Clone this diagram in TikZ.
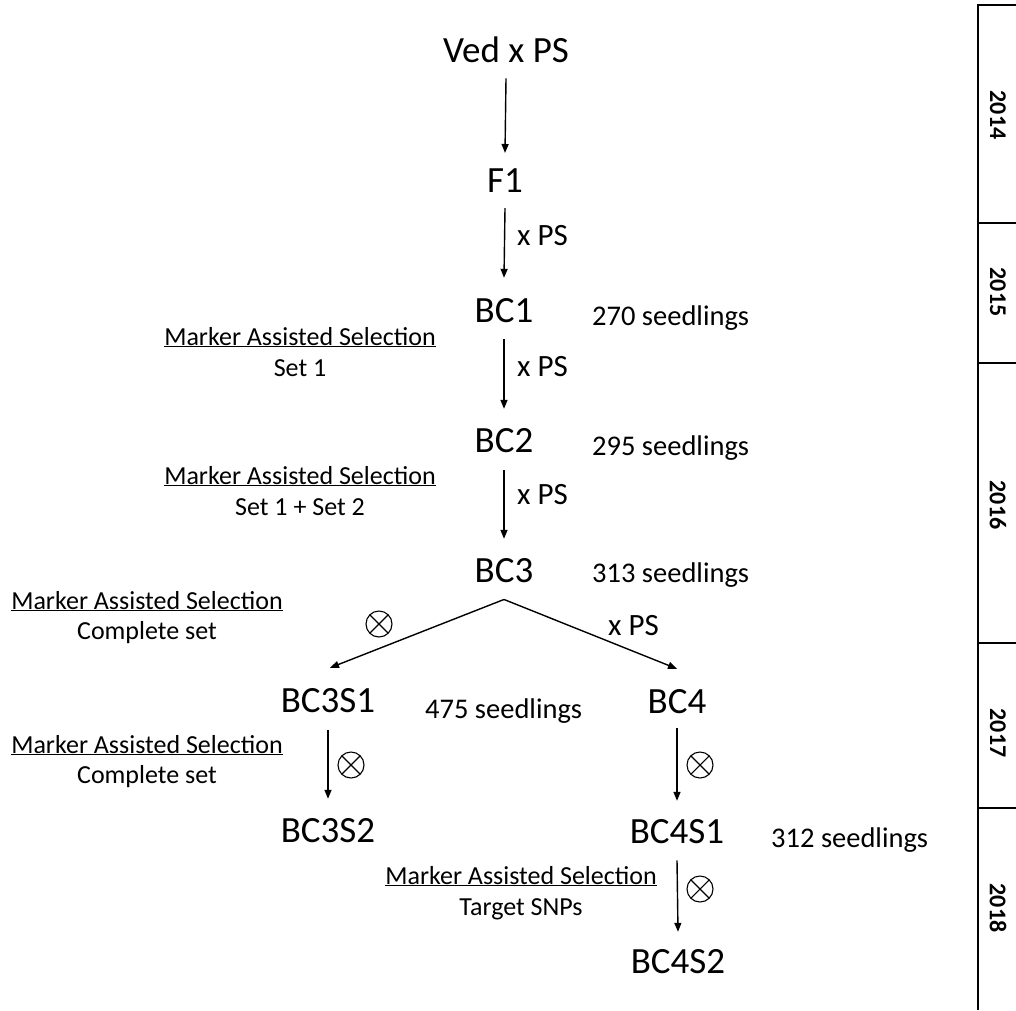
\documentclass[tikz,border=0pt]{standalone}
\usepackage{fontspec}
\setmainfont{Carlito}
\usetikzlibrary{arrows.meta}
\begin{document}
\begin{tikzpicture}[x=1pt,y=-1pt,
  big/.style={font=\fontsize{37}{40}\selectfont, inner sep=0pt, anchor=base},
  crosslbl/.style={font=\fontsize{31}{34}\selectfont, inner sep=0pt, anchor=base west},
  seed/.style={font=\fontsize{28.5}{32}\selectfont, inner sep=0pt, anchor=base west},
  mas/.style={font=\fontsize{26}{28}\selectfont, inner sep=0pt, anchor=base},
  yr/.style={font=\bfseries\fontsize{24}{26}\selectfont, rotate=-90, inner sep=0pt},
  arr/.style={-{Triangle[length=9pt,width=7pt]}, line width=1.4pt},
  grid/.style={line width=1.2pt},
  selfx/.style={circle, draw, line width=1.1pt, minimum size=26pt, inner sep=0pt,
    path picture={\draw[line width=1.1pt]
      (path picture bounding box.north west) -- (path picture bounding box.south east)
      (path picture bounding box.north east) -- (path picture bounding box.south west);}},
]
\useasboundingbox (0,0) rectangle (1016,1010);

% main generations
\node[big] (ved)   at (506,62)  {Ved x PS};
\node[big] (f1)    at (505,192) {F1};
\node[big] (bc1)   at (504,322) {BC1};
\node[big] (bc2)   at (504,452) {BC2};
\node[big] (bc3)   at (504,582) {BC3};
\node[big] (bc3s1) at (328,712) {BC3S1};
\node[big] (bc3s2) at (328,842) {BC3S2};
\node[big] (bc4)   at (677,713) {BC4};
\node[big] (bc4s1) at (677,843) {BC4S1};
\node[big] (bc4s2) at (678,973) {BC4S2};

% connectors
\draw[arr] ([yshift=-16pt]ved.south) -- ([yshift=15pt]f1.north);
\draw[arr] ([yshift=-16pt]f1.south) -- ([yshift=20pt]bc1.north);
\draw[arr] ([yshift=-17pt]bc1.south) -- ([yshift=19pt]bc2.north);
\draw[arr] ([yshift=-18pt]bc2.south) -- ([yshift=19pt]bc3.north);
\coordinate (split) at ([yshift=-17pt]bc3.south);
\draw[arr] (split) -- ([xshift=2pt,yshift=20pt]bc3s1.north);
\draw[arr] (split) -- ([yshift=20pt]bc4.north);
\draw[arr] ([yshift=-18pt]bc3s1.south) -- ([yshift=19pt]bc3s2.north);
\draw[arr] ([yshift=-15pt]bc4.south) -- ([yshift=18pt]bc4s1.north);
\draw[arr] ([yshift=-17pt]bc4s1.south) -- ([yshift=17pt]bc4s2.north);

% cross labels
\node[crosslbl] (x1) at (517,245) {x PS};
\node[crosslbl] (x2) at (517,376) {x PS};
\node[crosslbl] (x3) at (517,504) {x PS};
\node[crosslbl] (x4) at (608,635) {x PS};

% selfing symbols
\node[selfx] (s1) at (379,624) {};
\node[selfx] (s2) at (351,765) {};
\node[selfx] (s3) at (700,765) {};
\node[selfx] (s4) at (700,889) {};

% seedling counts
\node[seed] (n1) at (592,325) {270 seedlings};
\node[seed] (n2) at (592,455) {295 seedlings};
\node[seed] (n3) at (592,582) {313 seedlings};
\node[seed] (n4) at (425,718) {475 seedlings};
\node[seed] (n5) at (771,847) {312 seedlings};

% marker assisted selection
\node[mas] (m1) at (300,345) {\underline{Marker Assisted Selection}};
\node[mas] (m1b) at (300,376) {Set 1};
\node[mas] (m2) at (300,484) {\underline{Marker Assisted Selection}};
\node[mas] (m2b) at (300,515) {Set 1 + Set 2};
\node[mas] (m3) at (147,609) {\underline{Marker Assisted Selection}};
\node[mas] (m3b) at (147,639) {Complete set};
\node[mas] (m4) at (147,753) {\underline{Marker Assisted Selection}};
\node[mas] (m4b) at (147,783) {Complete set};
\node[mas] (m5) at (521,884) {\underline{Marker Assisted Selection}};
\node[mas] (m5b) at (521,915) {Target SNPs};

% year column
\draw[grid] (1016,5) -- (978,5) -- (978,1010);
\foreach \yy in {223,363,643,808} \draw[grid] (978,\yy) -- (1016,\yy);
\node[yr] (y14) at (998,115) {2014};
\node[yr] (y15) at (998,292) {2015};
\node[yr] (y16) at (998,505) {2016};
\node[yr] (y17) at (998,733) {2017};
\node[yr] (y18) at (998,908) {2018};
\end{tikzpicture}
\end{document}
